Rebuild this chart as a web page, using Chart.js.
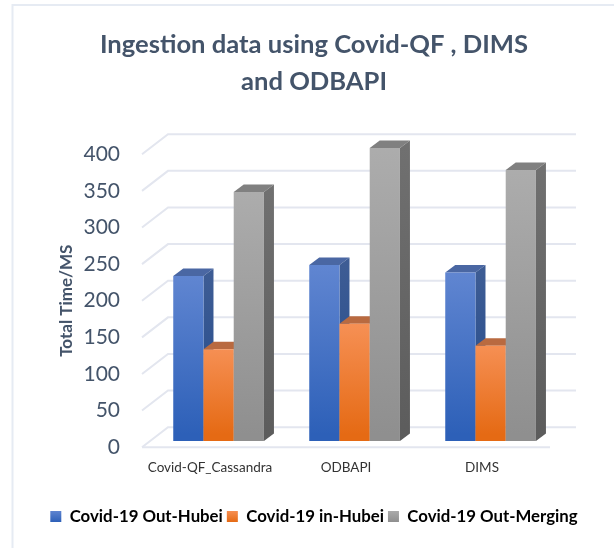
<!DOCTYPE html>
<html>
<head>
<meta charset="utf-8">
<title>Ingestion data</title>
<script src="https://cdn.jsdelivr.net/npm/chart.js@4/dist/chart.umd.min.js"></script>
<style>
  html, body { margin: 0; padding: 0; background: #fff; }
  #wrap { position: relative; width: 614px; height: 548px; overflow: hidden; }
  canvas { display: block; }
</style>
</head>
<body>
<div id="wrap"><canvas id="myChart" width="614" height="548"></canvas></div>
<script>
const categories = ["Covid-QF_Cassandra", "ODBAPI", "DIMS"];
const seriesNames = ["Covid-19 Out-Hubei", "Covid-19 in-Hubei", "Covid-19 Out-Merging"];
const outHubei = [225, 240, 230];
const inHubei = [125, 160, 130];
const outMerging = [340, 400, 370];
const yMax = 400;
const yStep = 50;

// light, dark, top face, side top, side bottom
const blues = ["#6287d2", "#2d60b8", "#4a67a3", "#3d5c94", "#234a8c"];
const oranges = ["#f79258", "#e56a14", "#b96a40", "#b96a40", "#b96a40"];
const grays = ["#adadad", "#8f8f8f", "#808080", "#707070", "#5c5c5c"];
const palette = [blues, oranges, grays];

const textColor = "#44546a";
const gridColor = "#e3e6ef";
const depth = { x: 26, y: 20 };
const barDepth = { x: 10, y: 7.5 };
const barShift = { x: 8.6, y: 6.3 };

let ctx = document.getElementById("myChart").getContext("2d");

function barGradient(colors, top, bottom) {
  let g = ctx.createLinearGradient(0, top, 0, bottom);
  g.addColorStop(0, colors[0]);
  g.addColorStop(1, colors[1]);
  return g;
}

function drawFaces(c, bar, colors) {
  const right = bar.x + bar.width / 2, left = bar.x - bar.width / 2;
  c.fillStyle = colors[2];
  c.beginPath();
  c.moveTo(left, bar.y);
  c.lineTo(left + barDepth.x, bar.y - barDepth.y);
  c.lineTo(right + barDepth.x, bar.y - barDepth.y);
  c.lineTo(right, bar.y);
  c.closePath();
  c.fill();
  let side = c.createLinearGradient(0, bar.y, 0, bar.base);
  side.addColorStop(0, colors[3]);
  side.addColorStop(1, colors[4]);
  c.fillStyle = side;
  c.beginPath();
  c.moveTo(right, bar.y);
  c.lineTo(right + barDepth.x, bar.y - barDepth.y);
  c.lineTo(right + barDepth.x, bar.base - barDepth.y);
  c.lineTo(right, bar.base);
  c.closePath();
  c.fill();
}

// frame + back wall + floor, then the bars left to right so they overlap properly
const wallPlugin = {
  id: "wall",
  beforeDraw(chart) {
    const c = chart.ctx, area = chart.chartArea, y = chart.scales.y;
    c.save();
    c.strokeStyle = "#e6ebf3";
    c.lineWidth = 2;
    c.beginPath();
    c.moveTo(12.5, 548);
    c.lineTo(12.5, 5);
    c.lineTo(614, 5);
    c.stroke();
    c.strokeStyle = gridColor;
    for (let v = 0; v <= yMax; v += yStep) {
      const py = y.getPixelForValue(v);
      c.beginPath();
      c.moveTo(area.left, py);
      c.lineTo(area.left + depth.x, py - depth.y);
      c.lineTo(area.right + depth.x, py - depth.y);
      c.stroke();
    }
    const y0 = y.getPixelForValue(0);
    c.beginPath();
    c.moveTo(area.left, y0);
    c.lineTo(area.right, y0);
    c.stroke();
    c.restore();
  },
  beforeDatasetsDraw(chart) {
    const c = chart.ctx;
    c.save();
    c.translate(barShift.x, -barShift.y);
    chart.data.datasets.forEach((ds, i) => {
      chart.getDatasetMeta(i).data.forEach((bar) => {
        drawFaces(c, bar, palette[i]);
        bar.draw(c);
      });
    });
    c.restore();
    return false;
  },
};

function makeDataset(name, values, colors) {
  return {
    label: name,
    data: values,
    borderWidth: 0,
    categoryPercentage: 0.667,
    barPercentage: 1,
    backgroundColor: (context) => {
      const area = context.chart.chartArea;
      const yScale = context.chart.scales.y;
      if (!area) return colors[0];
      return barGradient(colors, yScale.getPixelForValue(context.parsed ? context.parsed.y : yMax) - barShift.y, area.bottom - barShift.y);
    },
  };
}

new Chart(ctx, {
  type: "bar",
  data: {
    labels: categories,
    datasets: [
      makeDataset(seriesNames[0], outHubei, blues),
      makeDataset(seriesNames[1], inHubei, oranges),
      makeDataset(seriesNames[2], outMerging, grays),
    ],
  },
  plugins: [wallPlugin],
  options: {
    responsive: false,
    animation: false,
    layout: { padding: { left: 14, right: 0, top: 0, bottom: 13 } },
    plugins: {
      tooltip: { enabled: false },
      title: {
        display: true,
        text: ["Ingestion data using Covid-QF , DIMS", "and ODBAPI"],
        color: textColor,
        font: { family: "Lato", size: 25.6, weight: "bold", lineHeight: 1.45 },
        padding: { top: 26, bottom: 54 },
      },
      legend: {
        position: "bottom",
        labels: {
          color: "#000",
          font: { family: "Lato", size: 16.8, weight: "bold" },
          boxWidth: 11,
          boxHeight: 11,
          padding: 4,
          generateLabels: () =>
            seriesNames.map((name, i) => ({
              text: name,
              fontColor: "#000",
              fillStyle: barGradient(palette[i], 510, 522),
              lineWidth: 0,
              strokeStyle: "transparent",
            })),
        },
      },
    },
    scales: {
      x: {
        grid: { display: false },
        border: { display: false },
        afterFit: (scale) => { scale.height = 57; },
        ticks: { color: "#333", font: { family: "Lato", size: 13.5 }, padding: 4, maxRotation: 0 },
      },
      y: {
        min: 0,
        max: yMax,
        grid: { display: false },
        border: { display: false },
        afterFit: (scale) => { scale.width = 128; },
        ticks: { stepSize: yStep, color: textColor, font: { family: "Lato", size: 21 }, padding: 14 },
        title: {
          display: true,
          text: "Total Time/MS",
          color: textColor,
          font: { family: "Lato", size: 17, weight: "bold" },
          padding: { top: 42, bottom: 0 },
        },
      },
      // empty axis only keeps the space right of the floor
      spacer: {
        axis: "y",
        position: "right",
        grid: { display: false },
        border: { display: false },
        ticks: { display: false },
        afterFit: (scale) => { scale.width = 64; },
      },
    },
  },
});
</script>
</body>
</html>
